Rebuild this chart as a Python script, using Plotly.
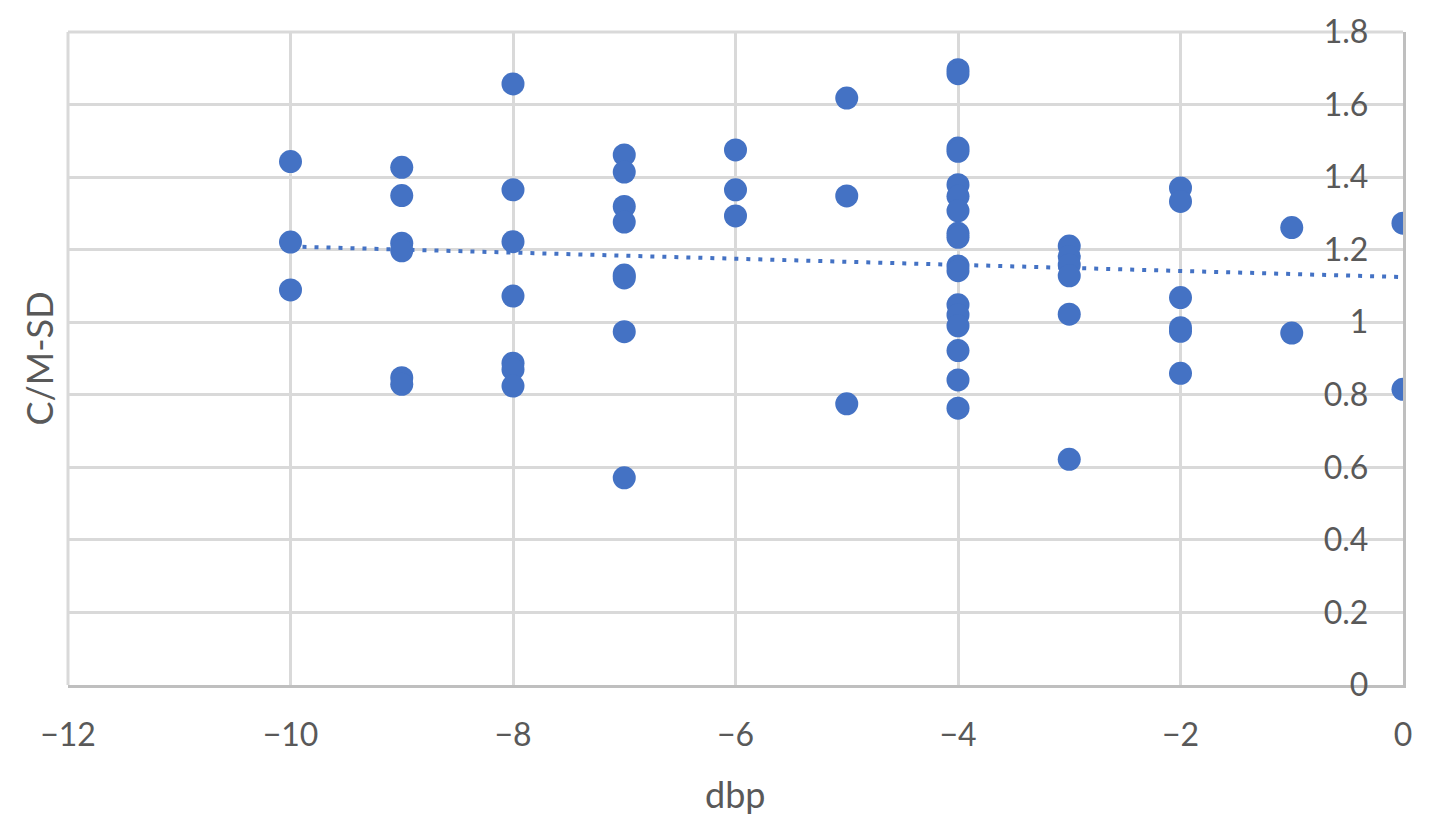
import numpy as np
import plotly.graph_objects as go

# dbp values and C/M-SD values
dbp = [-10, -10, -10,
       -9, -9, -9, -9, -9, -9,
       -8, -8, -8, -8, -8, -8, -8,
       -7, -7, -7, -7, -7, -7, -7, -7,
       -6, -6, -6,
       -5, -5, -5,
       -4, -4, -4, -4, -4, -4, -4, -4, -4, -4, -4, -4, -4, -4, -4, -4, -4,
       -3, -3, -3, -3, -3, -3,
       -2, -2, -2, -2, -2, -2,
       -1, -1,
       0, 0]
cm_sd = [1.443, 1.221, 1.089,
         1.427, 1.349, 1.218, 1.197, 0.847, 0.829,
         1.657, 1.365, 1.222, 1.072, 0.887, 0.870, 0.824,
         1.461, 1.414, 1.319, 1.276, 1.130, 1.122, 0.974, 0.571,
         1.475, 1.365, 1.293,
         1.618, 1.348, 0.775,
         1.696, 1.685, 1.480, 1.471, 1.379, 1.347, 1.307, 1.245, 1.234, 1.155, 1.142, 1.048, 1.020, 0.990, 0.922, 0.841, 0.763,
         1.210, 1.181, 1.158, 1.128, 1.022, 0.622,
         1.370, 1.333, 1.068, 0.985, 0.975, 0.859,
         1.261, 0.970,
         1.273, 0.815]

x_ticks = [-12, -10, -8, -6, -4, -2, 0]
y_ticks = [0, 0.2, 0.4, 0.6, 0.8, 1.0, 1.2, 1.4, 1.6, 1.8]
y_tick_text = ["0", "0.2", "0.4", "0.6", "0.8", "1", "1.2", "1.4", "1.6", "1.8"]

# linear trendline computed from the data
slope, intercept = np.polyfit(dbp, cm_sd, 1)
tx = np.array([min(dbp), max(dbp)], dtype=float)
ty = slope * tx + intercept

FONT = "Lato, Carlito, 'Liberation Sans', sans-serif"
GREY = "#595959"
BLUE = "#4472C4"
GRID = "#d9d9d9"
AXIS = "#bfbfbf"

fig = go.Figure()
fig.add_trace(go.Scatter(
    x=tx, y=ty, mode="lines",
    line=dict(color=BLUE, width=4, dash="4px,8px"),
    hoverinfo="skip", showlegend=False,
))
fig.add_trace(go.Scatter(
    x=dbp, y=cm_sd, mode="markers",
    marker=dict(color=BLUE, size=23, line=dict(width=0)),
    showlegend=False,
))

fig.update_layout(
    width=1422, height=822,
    margin=dict(l=60, r=27, t=24, b=145, autoexpand=False),
    paper_bgcolor="white", plot_bgcolor="white",
    font=dict(family=FONT, size=32, color=GREY),
    xaxis=dict(
        range=[-12, 0], tickvals=x_ticks, automargin=False,
        showgrid=True, gridcolor=GRID, gridwidth=3,
        zeroline=False, showline=True, linecolor=AXIS, linewidth=3,
        ticks="", ticklen=0, ticklabelstandoff=20, ticklabeloverflow="allow",
        tickfont=dict(family=FONT, size=32, color=GREY),
        title=None,
    ),
    yaxis=dict(
        range=[0, 1.8], tickvals=y_ticks, ticktext=y_tick_text, automargin=False,
        side="right", ticklabelposition="inside", ticklabeloverflow="allow",
        ticklabelstandoff=38,
        showgrid=True, gridcolor=GRID, gridwidth=3,
        zeroline=False, showline=True, linecolor=AXIS, linewidth=3,
        ticks="",
        tickfont=dict(family=FONT, size=32, color=GREY),
        title=None,
    ),
    shapes=[
        dict(type="line", xref="paper", yref="paper", x0=0, x1=1, y0=1, y1=1,
             line=dict(color=GRID, width=3), layer="below"),
        dict(type="line", xref="paper", yref="paper", x0=0, x1=0, y0=0, y1=1,
             line=dict(color=GRID, width=3), layer="below"),
    ],
    annotations=[
        dict(text="C/M-SD", xref="paper", yref="paper", x=0, y=0.5, xshift=-30,
             xanchor="center", yanchor="middle", textangle=-90, showarrow=False,
             font=dict(family=FONT, size=36, color=GREY)),
        dict(text="dbp", xref="paper", yref="paper", x=0.5, y=0, yshift=-109,
             xanchor="center", yanchor="middle", showarrow=False,
             font=dict(family=FONT, size=36, color=GREY)),
    ],
)

fig.write_html("out.html")
